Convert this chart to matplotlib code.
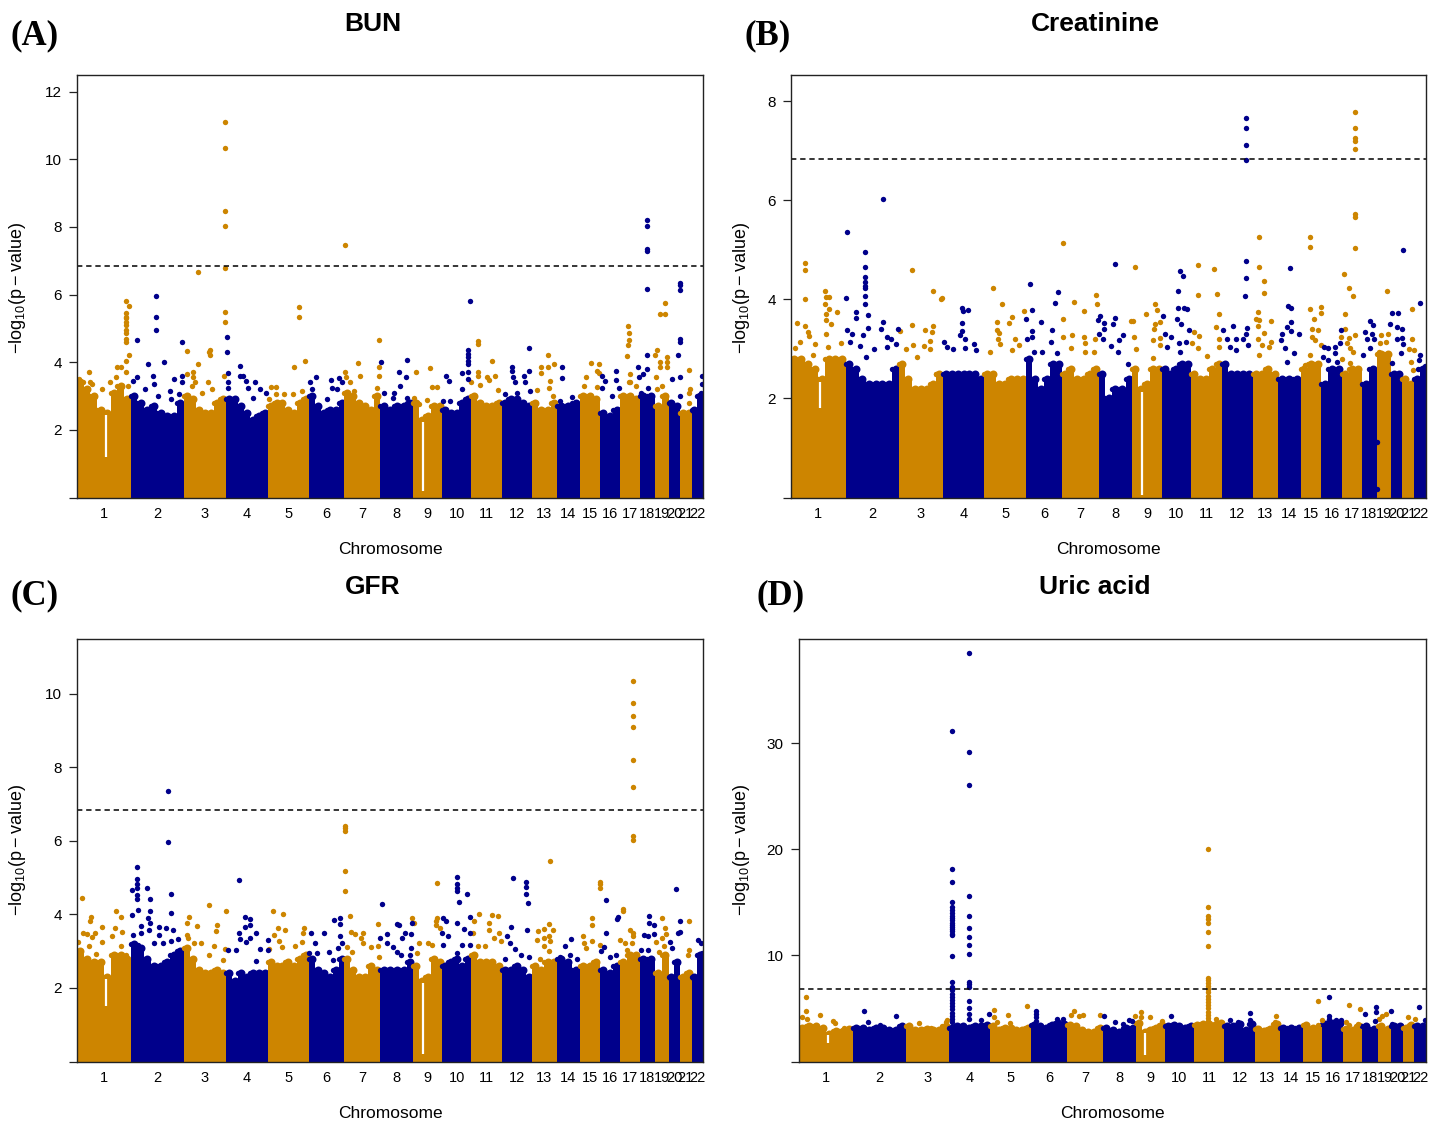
import numpy as np
import matplotlib
matplotlib.use("Agg")
import matplotlib.pyplot as plt

plt.rcParams['font.family'] = ['Liberation Sans', 'DejaVu Sans']
plt.rcParams['mathtext.fontset'] = 'custom'
plt.rcParams['mathtext.rm'] = 'Liberation Sans'
plt.rcParams['mathtext.default'] = 'rm'

ORANGE = '#CD8500'
NAVY = '#00008B'
THRESHOLD = 6.84
CHR_LABELS = [str(i) for i in range(1, 23)]
CHR_SIZES = [117, 115, 93, 90, 89, 78, 78, 72, 63, 62, 67, 66, 54, 50, 43, 45, 42, 33, 30, 24, 26, 25]

A_ENV = [[3.4,3.2,3.0,2.6,2.5,3.1,3.3,2.9],[3.0,2.8,2.6,2.7,2.5,2.4,2.4,2.8],[3.0,2.9,2.6,2.5,2.5,2.8,2.9],
         [2.9,2.9,2.7,2.5,2.3,2.4,2.5],[2.7,2.8,2.8,2.6,2.5,2.8,2.9],[3.0,2.7,2.5,2.6,2.6,2.8],[3.1,3.0,2.8,2.7,2.6,3.0],
         [2.7,2.6,2.7,2.7,2.8],[2.8,2.3,2.4,2.7,2.7],[2.6,2.5,2.5,2.8,2.9],[3.0,2.8,2.7,2.7,2.8],[2.8,2.9,2.9,2.8,2.7],
         [2.8,2.6,2.6,2.8],[2.7,2.7,2.8],[3.0,3.0,2.9],[2.5,2.4,2.6],[3.0,3.0,2.9],[3.0,3.0],[2.7,3.0],[2.8,2.7],[2.5,2.5],[2.6,3.0]]
B_ENV = [[2.8,2.8,2.7,2.6,2.4,2.8,2.8,2.8],[2.7,2.6,2.4,2.3,2.3,2.3,2.3,2.6],[2.7,2.4,2.2,2.2,2.2,2.3,2.5],
         [2.5,2.5,2.5,2.5,2.5,2.5,2.4],[2.5,2.5,2.3,2.3,2.4,2.4,2.4],[2.8,2.4,2.2,2.4,2.7,2.7],[2.5,2.6,2.4,2.4,2.5,2.6],
         [2.5,2.0,2.2,2.2,2.4],[2.6,2.2,2.3,2.6,2.6],[2.6,2.5,2.6,2.7,2.7],[2.5,2.4,2.4,2.6,2.7],[2.7,2.5,2.5,2.5,2.5],
         [2.5,2.5,2.6,2.5],[2.4,2.4,2.4],[2.6,2.7,2.7],[2.3,2.6,2.6],[2.5,2.6,2.6],[2.3,2.6],[2.9,2.9],[2.5,2.5],[2.4,2.3],[2.4,2.6]]
C_ENV = [[3.0,2.8,2.7,2.7,2.3,2.9,2.9,2.8],[3.2,3.1,2.8,2.6,2.6,2.7,2.9,3.0],[3.1,2.8,2.5,2.4,2.4,2.5,2.4],
         [2.4,2.2,2.4,2.3,2.4,2.4,2.4],[2.7,2.6,2.6,2.7,2.6,2.8,2.9],[2.8,2.5,2.4,2.3,2.5,2.8],[2.8,2.5,2.3,2.3,2.6,2.5],
         [2.5,2.5,2.5,2.5,2.7],[2.6,2.2,2.3,2.8,2.7],[2.6,2.7,2.8,2.6,2.8],[2.9,2.7,2.7,2.7,2.6],[2.5,2.5,2.6,2.5,2.3],
         [2.6,2.5,2.7,2.7],[2.8,2.7,2.5],[2.6,2.6,2.7],[2.5,2.4,2.6],[2.7,2.9,2.9],[2.8,2.8],[2.4,2.9],[2.3,2.7],[2.3,2.4],[2.3,2.9]]
D_ENV = [[3.2,3.3,3.3,3.2,2.6,2.9,2.9,3.1],[3.2,3.2,3.0,3.2,3.2,3.0,3.0,3.3],[3.3,3.0,3.0,3.1,3.0,3.0,3.3],
         [3.2,3.3,3.3,3.2,3.3,3.3,3.4],[3.3,3.0,3.2,3.2,3.0,3.0,3.2],[3.4,3.3,3.2,3.4,3.6,3.5],[3.4,3.3,3.0,2.8,2.8,3.2],
         [3.2,3.0,2.8,3.2,3.2],[3.6,2.8,3.0,3.2,3.4],[3.3,3.4,3.3,3.2,3.3],[3.4,3.5,3.5,3.4,3.6],[3.3,3.3,3.5,3.0,3.5],
         [3.1,2.9,3.1,3.5],[3.2,3.2,3.2],[3.4,3.2,3.2],[3.5,3.6,3.6],[3.1,3.0,3.3],[3.3,3.1],[3.3,3.1],[3.3,3.3],[3.2,3.4],[3.3,3.3]]

A_ORANGE = [(172,3.5),(180,3.4),(195,3.7),(197,3.4),(201,3.35),(222,3.2),(240,3.4),(252,3.55),(256,3.85),(263,3.85),(275,4.05),(275,3.7),(282,4.2),(278,3.3),
    (275,4.6),(275,4.7),(275,4.85),(275,4.95),(275,5.1),(275,5.2),(275,5.3),(275,5.35),(275,5.45),(275,5.8),(281,5.65),
    (407,4.32),(432,3.95),(455,4.3),(458,4.37),(458,4.22),(408,3.65),(420,3.7),(421,3.55),(425,3.4),(454,3.4),(462,3.2),(418,3.3),(489,5.48),(489,5.2),(488,3.6),(440,3.1),
    (432,6.68),(489,11.1),(489,10.32),(489,8.46),(489,8.04),(489,6.78),
    (651,5.63),(651,5.33),(664,4.03),(640,3.87),(590,3.27),(602,3.27),(600,3.05),(618,3.05),(637,3.05),(658,3.15),(586,2.9),
    (751,7.47),(826,4.67),(825,3.87),(826,3.6),(821,3.25),(780,3.98),(752,3.7),(753,3.55),(762,3.4),(784,3.6),(770,3.15),
    (905,3.72),(935,3.82),(940,3.28),(951,3.28),(930,2.88),(912,2.77),(902,2.95),
    (1041,4.62),(1041,4.55),(1072,4.04),(1041,3.7),(1041,3.6),(1061,3.55),(1064,3.47),(1077,3.6),(1045,3.33),(1026,3.4),(1085,3.18),
    (1193,4.2),(1178,3.85),(1177,3.68),(1193,3.85),(1205,3.96),(1168,3.18),(1197,3.45),(1195,3.25),(1203,3.0),
    (1286,3.97),(1303,3.95),(1300,3.75),(1303,3.68),(1276,3.55),(1271,3.3),(1300,3.28),
    (1366,5.07),(1370,4.85),(1370,4.65),(1367,4.5),(1365,4.18),(1372,3.65),(1372,3.4),(1368,3.4),(1385,3.3),
    (1447,5.74),(1436,5.42),(1447,5.42),(1430,4.35),(1425,4.2),(1437,4.0),(1437,3.85),(1452,4.15),(1452,4.0),(1452,3.85),(1427,3.57),(1440,3.3),(1430,3.2),
    (1500,3.77),(1502,3.2),(1500,3.1),(1500,2.8)]
A_NAVY = [(298,4.65),(298,3.55),(290,3.45),(339,5.95),(339,5.33),(339,4.95),(322,3.95),(334,3.6),(335,3.35),(358,4.0),(379,3.5),(396,4.6),(396,3.6),(396,3.4),(370,3.15),(389,3.05),(316,3.2),(345,3.0),(372,2.9),
    (494,4.75),(494,4.3),(496,3.68),(497,3.4),(497,3.25),(523,3.9),(522,3.6),(530,3.6),(535,3.45),(555,3.4),(566,3.2),(580,3.1),(550,2.95),(510,2.9),(541,3.25),
    (689,3.55),(675,3.4),(720,3.47),(737,3.53),(744,3.4),(722,3.25),(733,3.2),(712,2.9),(680,3.2),
    (830,4.0),(869,3.7),(885,4.07),(884,3.57),(870,3.3),(835,3.1),(857,3.1),(855,2.95),(885,2.95),
    (1022,5.8),(970,3.6),(977,3.45),(1005,3.67),(1018,3.7),(1019,4.35),(1019,4.25),(1019,4.15),(1019,4.05),(1019,3.95),(1019,3.5),(1006,3.2),(980,2.85),(965,2.85),
    (1152,4.42),(1115,3.85),(1115,3.75),(1117,3.55),(1120,3.4),(1140,3.6),(1143,3.4),(1152,3.75),(1153,3.15),(1100,3.05),(1125,3.1),
    (1224,3.85),(1223,3.53),(1219,2.85),(1245,2.97),(1218,2.65),
    (1311,3.6),(1316,3.45),(1340,3.75),(1340,3.47),(1310,3.25),(1347,3.25),(1332,3.0),
    (1408,8.21),(1408,8.02),(1408,7.34),(1408,7.3),(1409,6.15),(1408,4.2),(1389,3.87),(1408,3.8),(1400,3.65),(1390,3.55),(1410,3.25),(1395,3.1),
    (1480,6.35),(1480,6.28),(1480,6.13),(1480,4.7),(1480,4.6),(1476,4.2),(1480,3.57),(1462,3.5),(1480,3.0),
    (1527,3.6),(1527,3.35),(1525,3.1)]

B_ORANGE = [(170,3.52),(188,4.59),(188,4.73),(188,4.0),(188,3.46),(195,3.34),(197,3.26),(176,3.14),(210,3.09),(165,3.02),(230,4.17),(233,4.05),(240,4.05),(231,3.91),(240,3.8),(256,3.74),(232,3.7),(245,3.5),(232,3.3),(265,3.12),(238,3.04),(232,3.58),(205,2.87),
    (420,4.59),(465,4.16),(483,4.01),(486,4.03),(393,3.36),(420,3.49),(465,3.47),(448,3.39),(464,3.34),(445,3.06),(458,3.15),(406,2.99),(423,3.07),(460,3.0),(430,2.84),(473,2.49),
    (595,4.23),(616,3.91),(663,3.76),(638,3.64),(630,3.53),(605,3.55),(605,3.39),(610,3.33),(643,3.19),(607,3.21),(653,3.07),(590,2.94),(612,3.09),(637,2.97),
    (748,5.14),(771,3.95),(748,3.61),(794,3.76),(767,3.28),(748,3.24),(793,3.25),(796,3.11),(765,3.02),(797,2.94),(820,4.08),(822,3.9),(818,3.19),(815,2.94),
    (905,4.66),(895,3.56),(900,3.56),(928,3.71),(948,3.9),(952,3.78),(960,3.54),(947,3.51),(945,3.41),(902,3.24),(943,3.17),(960,3.22),(958,3.07),(907,2.99),(943,2.82),
    (1042,4.69),(1076,4.61),(1042,4.08),(1083,4.1),(1087,3.71),(1032,3.34),(1081,3.45),(1043,3.26),(1087,3.19),(1087,3.04),(1028,3.11),(1042,3.02),(1062,2.86),
    (1173,5.25),(1174,4.66),(1186,4.38),(1186,4.13),(1171,3.74),(1168,3.6),(1173,3.59),(1201,3.56),(1171,3.46),(1186,3.32),(1172,3.21),(1180,3.07),(1200,3.14),(1195,3.04),(1175,2.87),
    (1285,5.26),(1285,5.06),(1285,3.8),(1308,3.84),(1308,3.72),(1294,3.6),(1290,3.41),(1303,3.39),(1290,3.25),(1295,3.17),(1308,3.07),(1285,2.87),(1275,2.67),
    (1383,7.79),(1383,7.46),(1383,7.25),(1383,7.2),(1383,7.03),(1383,5.73),(1383,5.66),(1383,5.03),(1358,4.52),(1370,4.22),(1378,4.07),(1361,3.71),(1383,3.29),(1360,3.41),(1353,3.24),(1370,3.23),(1365,3.11),(1372,3.01),(1378,2.93),(1355,2.79),(1372,2.72),
    (1453,4.17),(1440,3.28),(1455,3.3),(1438,3.11),(1450,3.14),(1435,2.94),
    (1506,3.81),(1506,3.19),(1500,2.99),(1512,2.97),(1505,2.74),(1508,2.57)]
B_NAVY = [(278,5.37),(277,4.03),(298,3.74),(298,3.63),(317,4.95),(317,4.65),(317,4.45),(317,4.35),(317,4.28),(317,4.23),(317,4.06),(317,3.9),(325,3.68),(357,6.03),(358,3.54),(352,3.4),(325,3.43),(313,3.28),(290,3.31),(278,3.38),(390,3.41),(365,3.25),(375,3.2),(307,3.05),(337,2.99),(365,3.04),(285,3.14),(385,3.1),(320,2.84),
    (529,3.83),(530,3.76),(541,3.78),(528,3.53),(528,3.36),(525,3.28),(535,3.2),(489,3.14),(508,2.99),(555,3.09),(535,3.01),(560,2.97),(495,3.04),
    (677,4.31),(680,3.78),(667,3.6),(701,3.55),(680,3.36),(725,3.38),(670,3.21),(680,3.24),(722,3.14),(735,2.92),(685,2.94),(703,2.94),(738,4.15),(731,3.92),
    (862,4.71),(862,3.62),(829,3.67),(825,3.58),(837,3.53),(857,3.5),(837,3.41),(826,3.31),(878,3.28),(835,3.19),(870,3.17),(852,3.06),(868,2.94),(890,2.7),
    (1003,4.58),(1008,4.48),(999,4.17),(998,3.82),(1011,3.83),(1018,3.81),(996,3.6),(1004,3.5),(966,3.66),(1023,3.38),(970,3.31),(983,3.24),(1000,3.11),(1015,3.14),(975,3.04),(1003,2.94),
    (1145,7.67),(1145,7.46),(1145,7.12),(1145,6.82),(1145,4.77),(1145,4.44),(1144,4.07),(1118,3.46),(1149,3.42),(1096,3.38),(1145,3.3),(1105,3.19),(1125,3.21),(1140,3.21),(1150,3.07),(1110,3.04),(1125,2.97),
    (1242,4.63),(1238,3.87),(1243,3.83),(1243,3.55),(1235,3.44),(1243,3.36),(1260,3.31),(1225,3.31),(1222,3.17),(1230,3.01),(1250,2.91),(1235,2.74),
    (1352,3.38),(1315,3.04),(1323,3.01),(1340,3.04),(1350,3.11),(1313,2.84),(1325,2.77),(1340,2.91),(1343,2.74),
    (1415,3.56),(1404,3.34),(1421,3.48),(1420,3.31),(1408,3.21),(1425,3.21),(1416,3.01),(1400,2.87),(1430,1.13),(1430,0.17),
    (1486,4.99),(1463,3.73),(1476,3.72),(1459,3.5),(1474,3.44),(1484,3.41),(1485,3.23),(1475,3.19),(1488,3.09),(1483,2.91),(1464,2.72),
    (1524,3.92),(1525,2.87),(1522,2.77),(1535,2.65),(1520,2.6)]

C_ORANGE = [(178,4.46),(198,3.94),(197,3.81),(223,3.65),(252,4.1),(263,3.93),(180,3.49),(190,3.46),(200,3.38),(208,3.49),(223,3.26),(250,3.62),(265,3.53),(245,3.4),(195,3.15),(263,3.14),(170,3.26),(275,2.9),(210,2.93),
    (455,4.25),(492,4.09),(412,3.94),(407,3.76),(429,3.69),(472,3.7),(470,3.56),(407,3.44),(410,3.35),(438,3.23),(423,3.22),(465,3.15),(490,3.05),(455,2.9),(485,2.76),
    (595,4.1),(616,4.0),(605,3.64),(620,3.58),(596,3.44),(662,3.62),(660,3.49),(608,3.28),(643,3.15),(658,3.26),(585,3.05),(615,3.11),
    (751,6.41),(751,6.35),(751,6.27),(751,5.18),(751,4.64),(763,3.96),(764,3.52),(773,3.47),(790,3.49),(785,3.35),(790,3.22),(822,3.75),(808,3.11),(822,3.14),(755,3.11),(767,2.99),(825,2.85),
    (897,3.9),(902,3.76),(951,4.85),(952,3.91),(950,3.81),(948,3.7),(958,3.62),(912,3.22),(932,3.23),(940,3.17),(907,2.94),
    (1042,4.01),(1071,3.99),(1085,3.97),(1064,3.76),(1064,3.58),(1032,3.81),(1030,3.5),(1086,3.49),(1075,3.35),(1090,3.29),(1040,3.13),(1055,3.13),
    (1198,5.45),(1194,3.74),(1170,3.56),(1184,3.6),(1204,3.58),(1196,3.4),(1184,3.37),(1168,3.31),(1198,3.28),(1185,3.14),(1195,3.0),(1175,2.8),
    (1305,4.87),(1305,4.83),(1305,4.72),(1288,3.89),(1288,3.72),(1270,3.42),(1288,3.29),(1272,3.23),(1305,3.17),(1275,3.1),
    (1378,10.36),(1378,9.75),(1378,9.4),(1378,9.09),(1378,8.21),(1378,7.47),(1378,6.13),(1378,6.03),(1355,4.14),(1355,4.1),(1372,3.58),(1378,3.42),(1378,3.5),(1350,3.31),(1360,3.22),(1375,3.22),(1365,3.03),
    (1440,3.89),(1448,3.64),(1450,3.47),(1440,3.35),(1428,3.26),(1445,3.13),(1435,2.99),
    (1499,3.82),(1500,3.03),(1497,2.9)]
C_NAVY = [(365,7.36),(365,5.97),(298,5.28),(298,4.97),(298,4.83),(298,4.71),(287,4.67),(299,4.53),(299,4.41),(320,4.71),(326,4.41),(373,4.56),(373,4.03),(287,3.99),(300,4.12),(326,4.1),(323,3.9),(326,3.76),(308,3.69),(346,3.67),(362,3.64),(377,3.58),(347,3.44),(387,3.32),(290,3.44),(308,3.49),(325,3.58),(335,3.22),(355,3.23),(372,3.29),(300,3.17),
    (520,4.94),(533,3.93),(545,3.87),(533,3.65),(545,3.71),(557,3.5),(520,3.49),(522,3.32),(545,3.37),(535,3.26),(496,3.03),(515,3.03),(566,3.05),(584,3.31),(584,3.03),(557,2.72),
    (677,3.49),(706,3.49),(727,3.84),(741,3.9),(741,3.73),(741,3.4),(685,3.22),(745,3.22),(735,3.08),(716,2.97),(672,2.94),(725,2.76),(690,2.94),
    (832,4.28),(864,3.75),(868,3.72),(842,3.46),(828,3.35),(882,3.5),(895,3.46),(875,3.37),(842,3.22),(855,3.11),(865,2.99),(895,3.08),(873,2.89),(892,2.9),(897,3.76),
    (995,5.03),(995,4.83),(995,4.71),(995,4.65),(1000,4.34),(1016,4.55),(995,3.78),(965,3.9),(970,3.81),(1023,3.94),(1009,3.6),(963,3.49),(1023,3.49),(976,3.4),(965,3.17),(1005,3.17),(1022,3.17),(995,2.94),
    (1117,4.98),(1144,4.89),(1144,4.74),(1144,4.55),(1150,4.3),(1147,3.58),(1112,3.67),(1103,3.42),(1110,3.22),(1120,3.05),(1152,2.85),(1100,2.8),(1135,2.9),
    (1242,3.33),(1230,3.13),(1218,2.85),(1240,2.9),(1255,2.8),
    (1320,4.4),(1320,3.49),(1345,3.92),(1343,3.87),(1315,3.11),(1340,2.9),(1308,3.0),(1328,2.85),
    (1412,3.97),(1412,3.76),(1402,3.44),(1410,3.4),(1423,3.72),(1423,3.47),(1395,3.03),(1410,3.03),
    (1471,4.68),(1480,3.82),(1480,3.53),(1458,3.26),(1475,3.49),(1463,3.08),
    (1520,3.31),(1525,3.22),(1528,2.94)]

D_ORANGE = [(188,6.09),(188,4.78),(180,4.2),(190,4.0),(218,4.4),(248,3.85),(252,3.6),(270,3.2),
    (435,3.6),(460,3.2),(493,3.7),(495,3.9),
    (598,4.85),(598,4.2),(604,3.75),(628,4.35),(668,5.2),(632,3.6),
    (771,4.8),(765,4.4),(783,4.3),(791,4.4),(828,4.4),
    (905,4.3),(918,4.7),(918,4.15),(937,4.15),(963,3.8),
    (1063,20.05),(1063,14.6),(1063,13.75),(1063,13.45),(1063,13.0),(1063,12.2),(1063,10.9),(1063,7.9),(1063,7.65),(1063,7.4),(1063,7.1),(1063,6.8),
    (1063,6.5),(1063,6.2),(1063,5.9),(1063,5.6),(1063,5.3),(1063,5.0),(1063,4.7),(1063,4.4),(1063,4.1),(1063,3.8),(1080,4.0),(1080,3.6),
    (1210,4.3),(1208,3.7),(1170,3.2),
    (1301,5.7),(1311,3.9),(1303,3.4),
    (1370,5.3),(1393,4.9),(1362,3.7),(1390,3.5),(1370,3.4),
    (1450,4.5),(1442,4.3),(1435,4.0),
    (1498,4.15),(1512,4.0)]
D_NAVY = [(315,4.75),(385,4.3),(323,3.7),(350,3.4),
    (505,31.1),(505,18.1),(505,16.9),(505,15.0),(505,14.6),(505,14.3),(505,14.0),(505,13.75),(505,13.5),(505,13.3),(505,13.05),(505,12.85),(505,12.65),(505,12.45),(505,12.3),(505,12.05),(505,11.9),(505,9.95),(505,7.5),
    (505,7.0),(505,6.7),(505,6.4),(505,6.1),(505,5.8),(505,5.5),(505,5.2),(505,4.9),(505,4.6),(505,4.3),(505,4.0),(505,3.7),
    (542,38.5),(542,29.2),(542,26.0),(542,15.6),(542,13.75),(542,12.6),(542,11.7),(542,11.0),(542,10.15),(542,7.5),(542,7.3),(542,7.0),(542,5.7),(542,5.0),(542,4.5),(542,4.0),
    (568,3.9),(586,4.5),
    (688,4.8),(688,4.5),(688,4.15),(688,3.85),(735,4.0),(747,4.05),
    (837,4.25),(861,3.7),(890,3.9),(897,3.8),(877,3.5),(982,4.3),
    (1110,3.9),(1128,3.7),(1154,4.6),(1154,3.9),
    (1327,6.05),(1327,4.3),(1327,4.0),(1342,3.9),(1353,3.9),
    (1429,5.15),(1429,4.65),(1405,4.45),(1425,3.85),
    (1460,4.8),(1462,3.5),
    (1521,5.15),(1535,3.9)]

# chromosome index, fraction along it, deepest value of the centromere gap
GAP_CHR = [0, 8]
GAP_FRAC = [0.53, 0.32]
A_GAP_FLOOR = [1.2, 0.2]
B_GAP_FLOOR = [1.8, 0.05]
C_GAP_FLOOR = [1.5, 0.2]
D_GAP_FLOOR = [1.7, 0.6]

PANELS = [
    dict(title='BUN', tag='(A)', env=A_ENV, orange=A_ORANGE, navy=A_NAVY, floor=A_GAP_FLOOR,
         box=(77, 703, 75, 497.5), xlim=(168, 1530), ymax=12.49, yticks=[0, 2, 4, 6, 8, 10, 12],
         title_xy=(373, 24), tag_xy=(10, 36), xlabel_xy=(390, 549), ylabel_xy=(18, 288)),
    dict(title='Creatinine', tag='(B)', env=B_ENV, orange=B_ORANGE, navy=B_NAVY, floor=B_GAP_FLOOR,
         box=(791, 1426, 75, 497.5), xlim=(157, 1537), ymax=8.53, yticks=[0, 2, 4, 6, 8],
         title_xy=(1095, 24), tag_xy=(744, 36), xlabel_xy=(1108, 549), ylabel_xy=(741, 288)),
    dict(title='GFR', tag='(C)', env=C_ENV, orange=C_ORANGE, navy=C_NAVY, floor=C_GAP_FLOOR,
         box=(77, 703, 639, 1061.5), xlim=(168, 1530), ymax=11.49, yticks=[0, 2, 4, 6, 8, 10],
         title_xy=(373, 587), tag_xy=(10, 596), xlabel_xy=(390, 1113), ylabel_xy=(18, 850)),
    dict(title='Uric acid', tag='(D)', env=D_ENV, orange=D_ORANGE, navy=D_NAVY, floor=D_GAP_FLOOR,
         box=(799, 1426, 639, 1061.5), xlim=(173, 1537), ymax=39.8, yticks=[0, 10, 20, 30],
         title_xy=(1095, 587), tag_xy=(757, 596), xlabel_xy=(1112, 1113), ylabel_xy=(741, 850)),
]

W, H = 1442, 1122
fig = plt.figure(figsize=(W / 100, H / 100), dpi=100, facecolor='white')
DOT = 15
YLABEL = r'$-\mathrm{log}_{10}(\mathrm{p}-\mathrm{value})$'

for p in PANELS:
    x0, x1, y0, y1 = p['box']
    ax = fig.add_axes([x0 / W, 1 - y1 / H, (x1 - x0) / W, (y1 - y0) / H])
    xa, xb = p['xlim']
    sizes = np.array(CHR_SIZES, float) * (xb - xa) / sum(CHR_SIZES)
    edges = xa + np.concatenate([[0], np.cumsum(sizes)])
    mids = (edges[:-1] + edges[1:]) / 2
    dy = p['ymax'] / (y1 - y0)      # value per pixel
    for c, heights in enumerate(p['env']):
        col = ORANGE if c % 2 == 0 else NAVY
        n = len(heights)
        w = sizes[c] / n
        left = edges[c] + w * np.arange(n)
        ax.bar(left, heights, width=w, align='edge', color=col, linewidth=0, zorder=2 + c * 0.01)
        ax.scatter(left + w / 2, heights, s=DOT * 2.2, color=col, linewidths=0, zorder=2 + c * 0.01, clip_on=True)
        ax.scatter(left, heights, s=DOT, color=col, linewidths=0, zorder=2 + c * 0.01)
    ax.scatter(*zip(*p['orange']), s=DOT, color=ORANGE, linewidths=0, zorder=3)
    ax.scatter(*zip(*p['navy']), s=DOT, color=NAVY, linewidths=0, zorder=3)
    for c, frac, low in zip(GAP_CHR, GAP_FRAC, p['floor']):
        xg = edges[c] + frac * sizes[c]
        i = int(frac * len(p['env'][c]))
        ax.vlines(xg, low, p['env'][c][i] * 0.97, color='white', lw=1.6, zorder=2.5)
    ax.axhline(THRESHOLD, color='black', lw=1.1, ls=(0, (3.5, 2.5)), zorder=4)
    ax.set_xlim(xa, xb)
    ax.set_ylim(0, p['ymax'])
    ax.set_xticks(mids)
    ax.set_xticklabels(CHR_LABELS, fontsize=10.5)
    ax.tick_params(axis='x', length=0, pad=7)
    ax.set_yticks(p['yticks'])
    ax.set_yticklabels([''] + [str(v) for v in p['yticks'][1:]], fontsize=11)
    ax.tick_params(axis='y', length=6, width=0.9, pad=5, color='#222222')
    for s in ax.spines.values():
        s.set_linewidth(1.0)
        s.set_color('#222222')
        s.set_zorder(5)
    fig.text(p['title_xy'][0] / W, 1 - p['title_xy'][1] / H, p['title'], fontsize=19, fontweight='bold',
             ha='center', va='center')
    fig.text(p['tag_xy'][0] / W, 1 - p['tag_xy'][1] / H, p['tag'], fontsize=25, fontweight='bold',
             family=['Liberation Serif', 'DejaVu Serif'], ha='left', va='center')
    fig.text(p['xlabel_xy'][0] / W, 1 - p['xlabel_xy'][1] / H, 'Chromosome', fontsize=12.5, ha='center', va='center')
    fig.text(p['ylabel_xy'][0] / W, 1 - p['ylabel_xy'][1] / H, YLABEL, fontsize=13, rotation=90, ha='center', va='center')

fig.savefig('out.png', dpi=100)
